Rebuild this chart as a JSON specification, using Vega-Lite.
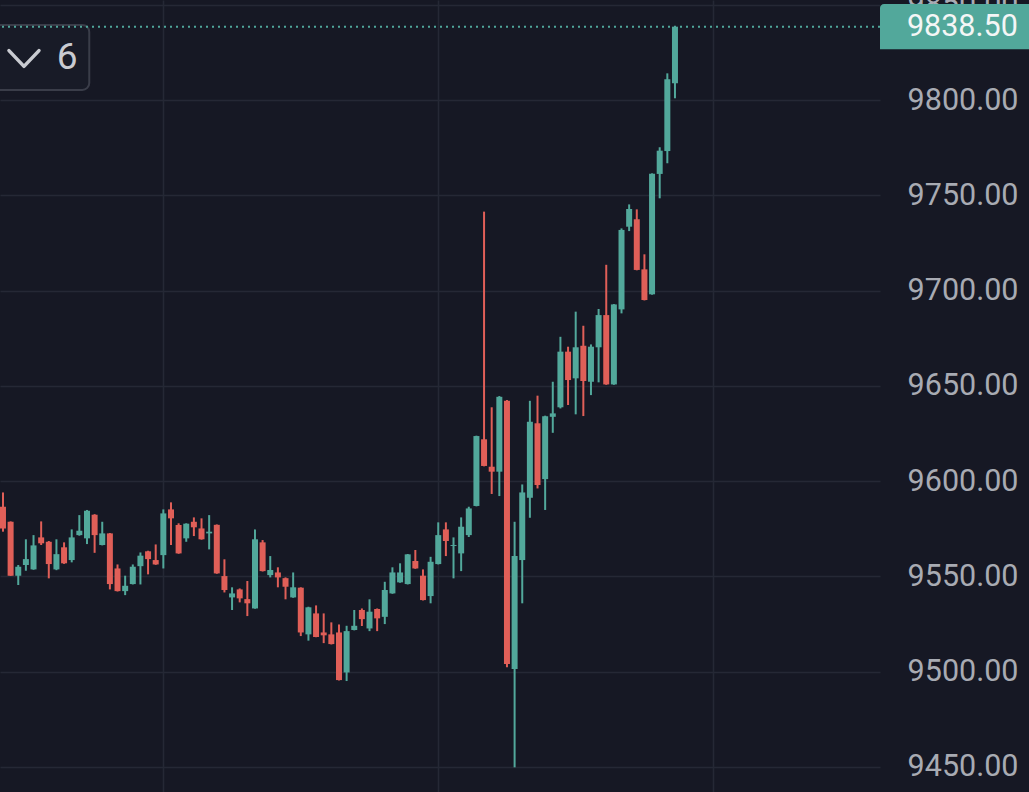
{
  "$schema": "https://vega.github.io/schema/vega-lite/v6.json",
  "width": 880,
  "height": 792,
  "autosize": {"type": "none"},
  "padding": {"left": 0, "right": 149, "top": 0, "bottom": 0},
  "background": "#161824",
  "config": {
    "view": {"stroke": null},
    "font": "Roboto"
  },
  "data": {
    "values": [
      {"i": 0, "open": 9586.5, "high": 9594.0, "low": 9573.4, "close": 9575.1},
      {"i": 1, "open": 9578.6, "high": 9578.8, "low": 9550.2, "close": 9550.3},
      {"i": 2, "open": 9550.3, "high": 9555.9, "low": 9545.4, "close": 9555.0},
      {"i": 3, "open": 9555.9, "high": 9569.4, "low": 9552.9, "close": 9559.0},
      {"i": 4, "open": 9553.6, "high": 9571.6, "low": 9553.4, "close": 9566.2},
      {"i": 5, "open": 9570.4, "high": 9578.8, "low": 9566.4, "close": 9567.3},
      {"i": 6, "open": 9568.1, "high": 9568.5, "low": 9548.9, "close": 9556.4},
      {"i": 7, "open": 9553.6, "high": 9569.4, "low": 9553.2, "close": 9561.6},
      {"i": 8, "open": 9565.2, "high": 9567.8, "low": 9556.5, "close": 9556.8},
      {"i": 9, "open": 9558.5, "high": 9574.6, "low": 9557.3, "close": 9570.4},
      {"i": 10, "open": 9571.6, "high": 9582.1, "low": 9571.3, "close": 9573.9},
      {"i": 11, "open": 9569.9, "high": 9584.8, "low": 9566.9, "close": 9584.4},
      {"i": 12, "open": 9582.3, "high": 9582.6, "low": 9562.3, "close": 9571.6},
      {"i": 13, "open": 9566.4, "high": 9578.6, "low": 9566.2, "close": 9572.5},
      {"i": 14, "open": 9572.5, "high": 9572.7, "low": 9543.1, "close": 9545.9},
      {"i": 15, "open": 9554.1, "high": 9556.2, "low": 9542.0, "close": 9542.2},
      {"i": 16, "open": 9542.2, "high": 9550.3, "low": 9540.1, "close": 9545.0},
      {"i": 17, "open": 9545.9, "high": 9556.2, "low": 9545.7, "close": 9555.0},
      {"i": 18, "open": 9555.3, "high": 9562.5, "low": 9545.7, "close": 9560.8},
      {"i": 19, "open": 9563.1, "high": 9563.4, "low": 9551.0, "close": 9559.0},
      {"i": 20, "open": 9558.5, "high": 9566.7, "low": 9556.0, "close": 9556.2},
      {"i": 21, "open": 9561.1, "high": 9585.1, "low": 9554.1, "close": 9583.0},
      {"i": 22, "open": 9585.1, "high": 9588.8, "low": 9566.4, "close": 9580.4},
      {"i": 23, "open": 9576.9, "high": 9577.8, "low": 9561.8, "close": 9562.0},
      {"i": 24, "open": 9569.9, "high": 9577.8, "low": 9568.1, "close": 9577.6},
      {"i": 25, "open": 9578.6, "high": 9580.9, "low": 9571.1, "close": 9575.7},
      {"i": 26, "open": 9575.1, "high": 9580.4, "low": 9569.2, "close": 9569.4},
      {"i": 27, "open": 9572.5, "high": 9582.1, "low": 9564.1, "close": 9573.4},
      {"i": 28, "open": 9577.0, "high": 9577.2, "low": 9551.3, "close": 9551.5},
      {"i": 29, "open": 9550.1, "high": 9558.9, "low": 9541.5, "close": 9542.8},
      {"i": 30, "open": 9538.9, "high": 9544.2, "low": 9532.3, "close": 9541.0},
      {"i": 31, "open": 9543.1, "high": 9543.6, "low": 9536.3, "close": 9538.4},
      {"i": 32, "open": 9538.0, "high": 9547.5, "low": 9529.1, "close": 9535.8},
      {"i": 33, "open": 9533.1, "high": 9574.6, "low": 9533.0, "close": 9569.4},
      {"i": 34, "open": 9567.8, "high": 9569.0, "low": 9552.5, "close": 9552.7},
      {"i": 35, "open": 9550.6, "high": 9560.6, "low": 9549.4, "close": 9553.3},
      {"i": 36, "open": 9552.0, "high": 9554.7, "low": 9544.2, "close": 9549.4},
      {"i": 37, "open": 9549.0, "high": 9549.4, "low": 9537.9, "close": 9544.5},
      {"i": 38, "open": 9538.9, "high": 9552.0, "low": 9538.7, "close": 9544.2},
      {"i": 39, "open": 9544.0, "high": 9544.2, "low": 9518.6, "close": 9520.5},
      {"i": 40, "open": 9519.5, "high": 9534.0, "low": 9516.2, "close": 9533.7},
      {"i": 41, "open": 9530.5, "high": 9534.7, "low": 9518.0, "close": 9518.1},
      {"i": 42, "open": 9520.5, "high": 9530.5, "low": 9514.9, "close": 9519.0},
      {"i": 43, "open": 9519.5, "high": 9525.8, "low": 9514.2, "close": 9514.4},
      {"i": 44, "open": 9520.5, "high": 9524.7, "low": 9495.3, "close": 9495.5},
      {"i": 45, "open": 9499.5, "high": 9524.0, "low": 9495.0, "close": 9521.2},
      {"i": 46, "open": 9521.8, "high": 9532.3, "low": 9521.6, "close": 9524.0},
      {"i": 47, "open": 9532.3, "high": 9533.1, "low": 9523.9, "close": 9527.5},
      {"i": 48, "open": 9522.6, "high": 9537.9, "low": 9521.2, "close": 9531.4},
      {"i": 49, "open": 9532.8, "high": 9533.1, "low": 9521.2, "close": 9527.9},
      {"i": 50, "open": 9528.7, "high": 9547.1, "low": 9524.9, "close": 9542.8},
      {"i": 51, "open": 9541.0, "high": 9554.7, "low": 9540.8, "close": 9552.0},
      {"i": 52, "open": 9546.8, "high": 9556.8, "low": 9546.6, "close": 9552.0},
      {"i": 53, "open": 9545.9, "high": 9561.7, "low": 9545.7, "close": 9561.5},
      {"i": 54, "open": 9558.0, "high": 9563.8, "low": 9553.9, "close": 9554.1},
      {"i": 55, "open": 9550.3, "high": 9553.6, "low": 9537.3, "close": 9537.5},
      {"i": 56, "open": 9539.6, "high": 9560.2, "low": 9535.8, "close": 9557.6},
      {"i": 57, "open": 9556.4, "high": 9578.3, "low": 9556.2, "close": 9571.6},
      {"i": 58, "open": 9574.6, "high": 9578.3, "low": 9560.6, "close": 9568.5},
      {"i": 59, "open": 9565.9, "high": 9570.4, "low": 9548.9, "close": 9566.4},
      {"i": 60, "open": 9562.0, "high": 9580.9, "low": 9552.7, "close": 9576.0},
      {"i": 61, "open": 9571.6, "high": 9586.5, "low": 9570.6, "close": 9585.6},
      {"i": 62, "open": 9586.9, "high": 9623.8, "low": 9586.7, "close": 9623.6},
      {"i": 63, "open": 9621.9, "high": 9741.4, "low": 9607.7, "close": 9607.9},
      {"i": 64, "open": 9607.5, "high": 9638.7, "low": 9593.2, "close": 9604.9},
      {"i": 65, "open": 9604.9, "high": 9644.6, "low": 9592.1, "close": 9644.2},
      {"i": 66, "open": 9642.1, "high": 9642.5, "low": 9502.2, "close": 9503.9},
      {"i": 67, "open": 9501.3, "high": 9578.6, "low": 9449.7, "close": 9560.6},
      {"i": 68, "open": 9558.5, "high": 9598.2, "low": 9535.8, "close": 9594.0},
      {"i": 69, "open": 9591.2, "high": 9642.1, "low": 9580.7, "close": 9631.1},
      {"i": 70, "open": 9630.3, "high": 9644.8, "low": 9596.1, "close": 9597.9},
      {"i": 71, "open": 9601.0, "high": 9634.3, "low": 9584.8, "close": 9634.0},
      {"i": 72, "open": 9633.7, "high": 9652.1, "low": 9625.3, "close": 9635.5},
      {"i": 73, "open": 9638.7, "high": 9675.7, "low": 9638.1, "close": 9667.9},
      {"i": 74, "open": 9667.9, "high": 9670.5, "low": 9639.9, "close": 9653.0},
      {"i": 75, "open": 9653.9, "high": 9688.9, "low": 9635.0, "close": 9670.2},
      {"i": 76, "open": 9671.0, "high": 9681.5, "low": 9634.1, "close": 9652.5},
      {"i": 77, "open": 9652.1, "high": 9671.7, "low": 9645.1, "close": 9670.5},
      {"i": 78, "open": 9670.2, "high": 9690.3, "low": 9651.8, "close": 9687.1},
      {"i": 79, "open": 9687.1, "high": 9713.5, "low": 9650.5, "close": 9650.7},
      {"i": 80, "open": 9650.7, "high": 9692.9, "low": 9650.5, "close": 9692.7},
      {"i": 81, "open": 9690.1, "high": 9732.6, "low": 9688.0, "close": 9731.8},
      {"i": 82, "open": 9733.5, "high": 9745.2, "low": 9731.2, "close": 9742.8},
      {"i": 83, "open": 9737.4, "high": 9742.6, "low": 9710.6, "close": 9710.8},
      {"i": 84, "open": 9711.1, "high": 9719.0, "low": 9694.8, "close": 9695.0},
      {"i": 85, "open": 9698.0, "high": 9761.5, "low": 9697.8, "close": 9761.3},
      {"i": 86, "open": 9761.2, "high": 9775.2, "low": 9748.4, "close": 9773.4},
      {"i": 87, "open": 9773.2, "high": 9814.0, "low": 9766.8, "close": 9810.9},
      {"i": 88, "open": 9808.8, "high": 9838.5, "low": 9800.9, "close": 9838.5}
    ]
  },
  "layer": [
    {
      "data": {"values": [{}]},
      "mark": {"type": "rect", "fill": "#181b27", "stroke": "#3a3d49", "strokeWidth": 2, "cornerRadius": 7},
      "encoding": {
        "x": {"datum": -1.7, "type": "quantitative"},
        "x2": {"datum": 11.3},
        "y": {"datum": 9839.4, "type": "quantitative"},
        "y2": {"datum": 9805.3}
      }
    },
    {
      "data": {"values": [{}]},
      "mark": {"type": "rule", "color": "#4fa69a", "strokeWidth": 2, "strokeDash": [2, 4]},
      "encoding": {
        "y": {"datum": 9838.5, "type": "quantitative"}
      }
    },
    {
      "mark": {"type": "rule", "strokeWidth": 2},
      "encoding": {
        "x": {
          "field": "i",
          "type": "quantitative",
          "scale": {"domain": [-0.39, 114.85], "nice": false, "zero": false, "padding": 0},
          "axis": {
            "values": [21, 57, 93],
            "grid": true,
            "gridColor": "#252835",
            "gridWidth": 1.5,
            "labels": false,
            "ticks": false,
            "domain": false,
            "title": null
          }
        },
        "y": {
          "field": "low",
          "type": "quantitative",
          "scale": {"domain": [9436.75, 9852.5], "nice": false, "zero": false, "padding": 0},
          "axis": {
            "orient": "right",
            "values": [9450, 9500, 9550, 9600, 9650, 9700, 9750, 9800, 9850],
            "format": ".2f",
            "grid": true,
            "gridColor": "#252835",
            "gridWidth": 1.5,
            "domain": false,
            "ticks": false,
            "tickSize": 0,
            "labelPadding": 138,
            "labelAlign": "right",
            "labelBaseline": "middle",
            "labelFont": "Roboto",
            "labelFontSize": 30.5,
            "labelColor": "#a8abb3",
            "labelOverlap": false,
            "labelFlush": false,
            "labelBound": false,
            "title": null
          }
        },
        "y2": {"field": "high"},
        "color": {
          "condition": {"test": "datum.close >= datum.open", "value": "#52a89b"},
          "value": "#e05f58"
        }
      }
    },
    {
      "mark": {"type": "bar", "width": 6},
      "encoding": {
        "x": {"field": "i", "type": "quantitative"},
        "y": {"field": "open", "type": "quantitative"},
        "y2": {"field": "close"},
        "color": {
          "condition": {"test": "datum.close >= datum.open", "value": "#52a89b"},
          "value": "#e05f58"
        }
      }
    },
    {
      "data": {"values": [{}]},
      "mark": {"type": "rect", "fill": "#52a89b", "cornerRadiusTopLeft": 4},
      "encoding": {
        "x": {"datum": 114.85, "type": "quantitative"},
        "x2": {"datum": 134.5},
        "y": {"datum": 9850.4, "type": "quantitative"},
        "y2": {"datum": 9826.6}
      }
    },
    {
      "data": {"values": [{"label": "9838.50"}]},
      "mark": {"type": "text", "align": "right", "baseline": "middle", "font": "Roboto", "fontSize": 30.5, "color": "#f4f6f6"},
      "encoding": {
        "x": {"datum": 132.9, "type": "quantitative"},
        "y": {"datum": 9838.5, "type": "quantitative"},
        "text": {"field": "label"}
      }
    },
    {
      "data": {"values": [{}]},
      "mark": {
        "type": "point",
        "shape": "M-1,-0.5L0,0.55L1,-0.5",
        "size": 900,
        "filled": false,
        "stroke": "#c9cbd1",
        "strokeWidth": 3.5,
        "strokeCap": "round",
        "strokeJoin": "round",
        "opacity": 1
      },
      "encoding": {
        "x": {"datum": 2.75, "type": "quantitative"},
        "y": {"datum": 9822.0, "type": "quantitative"}
      }
    },
    {
      "data": {"values": [{"label": "6"}]},
      "mark": {"type": "text", "align": "center", "baseline": "middle", "font": "Roboto", "fontSize": 37, "color": "#c9cbd1"},
      "encoding": {
        "x": {"datum": 8.4, "type": "quantitative"},
        "y": {"datum": 9822.0, "type": "quantitative"},
        "text": {"field": "label"}
      }
    }
  ]
}
